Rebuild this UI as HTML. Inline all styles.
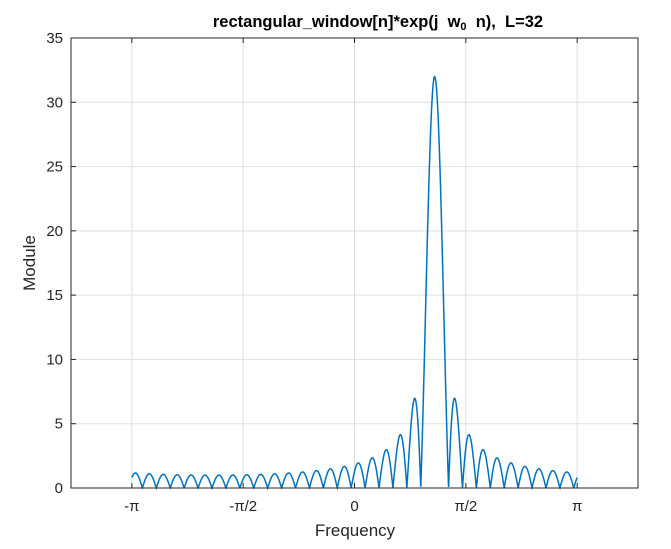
<!DOCTYPE html>
<html><head><meta charset="utf-8"><style>
body{margin:0;background:#fff;font-family:"Liberation Sans",Arial,sans-serif}
</style></head><body>
<svg id="chart" width="671" height="544" xmlns="http://www.w3.org/2000/svg">
<rect width="671" height="544" fill="#fff"/>
<g id="grid"></g>
<path id="curve" fill="none" stroke="#0072BD" stroke-width="1.5"/>
<rect x="71" y="38" width="567" height="450" fill="none" stroke="#262626" stroke-width="1"/>
<g id="ticks"></g>
<text x="378" y="27" text-anchor="middle" font-size="16.5" font-weight="bold" fill="#000">rectangular_window[n]*exp(j&#160;&#160;w<tspan font-size="11" dy="3">0</tspan><tspan dy="-3">&#160;&#160;n),&#160;&#160;L=32</tspan></text>
<text x="355" y="536" text-anchor="middle" font-size="17" fill="#262626">Frequency</text>
<text transform="translate(35,263) rotate(-90)" text-anchor="middle" font-size="17" fill="#262626">Module</text>
</svg>
<script>
const windowLength = [32];
const centerFreq = [1.131];
const xTickValues = [-Math.PI, -Math.PI/2, 0, Math.PI/2, Math.PI];
const xTickLabels = ["-π", "-π/2", "0", "π/2", "π"];
const yTickValues = [0, 5, 10, 15, 20, 25, 30, 35];

const X0=71, X1=638, Y0=488, Y1=38;
const xs = v => X0 + (v + 4) / 8 * (X1 - X0);
const ys = v => Y0 - v / 35 * (Y0 - Y1);
const NS = "http://www.w3.org/2000/svg";
const grid = document.getElementById('grid'), ticks = document.getElementById('ticks');
function mk(tag, attrs, parent){const e=document.createElementNS(NS,tag);for(const k in attrs)e.setAttribute(k,attrs[k]);parent.appendChild(e);return e;}
xTickValues.forEach((v,i)=>{
  const x=xs(v);
  const g=mk('line',{x1:x,x2:x,y1:Y1,y2:Y0,stroke:'#dfdfdf','stroke-width':1},grid);
  
  
  const t=mk('line',{x1:x,x2:x,y1:Y0,y2:Y0-5,stroke:'#262626'},ticks);
  
  
  const t2=mk('line',{x1:x,x2:x,y1:Y1,y2:Y1+5,stroke:'#262626'},ticks);
  
  
  const l=mk('text',{x:x,y:Y0+23,'text-anchor':'middle','font-size':15,fill:'#262626'},ticks);
  l.textContent=xTickLabels[i];
  
  
});
yTickValues.forEach(v=>{
  const y=ys(v);
  const g=mk('line',{x1:X0,x2:X1,y1:y,y2:y,stroke:'#dfdfdf','stroke-width':1},grid);
  
  
  const t=mk('line',{x1:X0,x2:X0+5,y1:y,y2:y,stroke:'#262626'},ticks);
  
  
  const t2=mk('line',{x1:X1,x2:X1-5,y1:y,y2:y,stroke:'#262626'},ticks);
  
  
  const l=mk('text',{x:X0-8,y:y+5,'text-anchor':'end','font-size':15,fill:'#262626'},ticks);
  l.textContent=v;
  
  
});
const L=windowLength[0], w0=centerFreq[0];
let d='';
const N=3000;
for(let i=0;i<=N;i++){
  const w=-Math.PI+2*Math.PI*i/N;
  const u=(w-w0)/2;
  const s=Math.sin(u);
  const m=Math.abs(s)<1e-9?L:Math.abs(Math.sin(L*u)/s);
  d+=(i?'L':'M')+xs(w).toFixed(2)+','+ys(m).toFixed(2);
}
document.getElementById('curve').setAttribute('d',d);
</script>
</body></html>
